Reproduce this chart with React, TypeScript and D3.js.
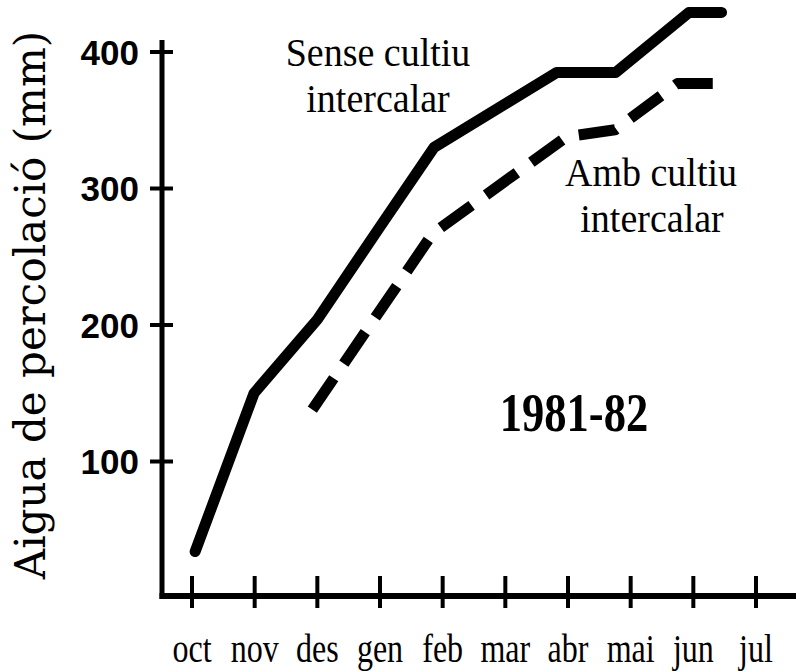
import React from 'react';
import * as d3 from 'd3';

// month ticks along the x axis
const months = ['oct', 'nov', 'des', 'gen', 'feb', 'mar', 'abr', 'mai', 'jun', 'jul'];
const yTicks = [100, 200, 300, 400];

// "Sense cultiu intercalar" (solid) - position in months from oct, mm
const senseMonth = [0.05, 0.99, 2, 3, 3.86, 5.82, 6.76, 7.93, 8.45];
const senseValue = [34, 150, 204, 272, 330, 385, 385, 429, 429];

// "Amb cultiu intercalar" (dashed)
const ambMonth = [1.92, 3.84, 5.98, 6.75, 7.75, 8.31];
const ambValue = [138, 267, 338, 343, 377, 377];

const W = 796;
const H = 671;
const serif = '"Liberation Serif", "Times New Roman", serif';

const App: React.FC = () => {
  const x = d3.scaleLinear().domain([0, 9]).range([192, 756]);
  const y = d3.scaleLinear().domain([0, 400]).range([598, 52]);

  const axisX = 162;
  const axisY = y(0) - 2;

  const line = d3
    .line<[number, number]>()
    .x((d) => x(d[0]))
    .y((d) => y(d[1]));

  const sensePts = senseMonth.map((m, i) => [m, senseValue[i]] as [number, number]);
  const ambPts = ambMonth.map((m, i) => [m, ambValue[i]] as [number, number]);

  // fit the dash pattern so the dashed line starts and ends on a dash
  let len = 0;
  for (let i = 1; i < ambPts.length; i++) {
    len += Math.hypot(x(ambPts[i][0]) - x(ambPts[i - 1][0]), y(ambPts[i][1]) - y(ambPts[i - 1][1]));
  }
  const dash = 38;
  const n = Math.round((len - dash) / 59);
  const gap = (len - dash) / n - dash;

  // labels are typeset in a narrow serif, squeeze horizontally
  const label = (cx: number, by: number, txt: string, size: number, sx: number, bold = false) => (
    <text
      transform={`translate(${cx},${by}) scale(${sx},1)`}
      textAnchor="middle"
      fontFamily={serif}
      fontSize={size}
      fontWeight={bold ? 'bold' : 'normal'}
      fill="#000"
    >
      {txt}
    </text>
  );

  return (
    <svg
      width={W}
      height={H}
      style={{ position: 'absolute', left: 0, top: 0, background: '#fff' }}
    >
      <rect width={W} height={H} fill="#fff" />

      {/* y axis */}
      <line x1={axisX} x2={axisX} y1={40} y2={axisY + 3} stroke="#000" strokeWidth={5} />
      {yTicks.map((t) => (
        <g key={t}>
          <line x1={axisX - 12} x2={axisX + 11} y1={y(t)} y2={y(t)} stroke="#000" strokeWidth={4} />
          <text
            x={axisX - 23}
            y={y(t)}
            dy="0.36em"
            textAnchor="end"
            fontFamily='"Liberation Sans", Arial, sans-serif'
            fontWeight="bold"
            fontSize={35}
            fill="#000"
          >
            {t}
          </text>
        </g>
      ))}

      {/* x axis */}
      <line x1={axisX - 2.5} x2={W} y1={axisY} y2={axisY} stroke="#000" strokeWidth={6} />
      {months.map((m, i) => (
        <g key={m}>
          <line x1={x(i)} x2={x(i)} y1={axisY - 20} y2={axisY + 12} stroke="#000" strokeWidth={4} />
          {label(x(i), 662, m, 40, 0.8)}
        </g>
      ))}

      {/* y axis title */}
      <text
        transform={`translate(45,305) rotate(-90)`}
        textAnchor="middle"
        fontFamily='"DejaVu Serif", serif'
        fontSize={42}
        fill="#000"
      >
        Aigua de percolació (mm)
      </text>

      {/* series */}
      <path d={line(sensePts) ?? ''} fill="none" stroke="#000" strokeWidth={11} strokeLinejoin="round" strokeLinecap="round" />
      <path
        d={line(ambPts) ?? ''}
        fill="none"
        stroke="#000"
        strokeWidth={11}
        strokeDasharray={`${dash} ${gap}`}
        strokeLinejoin="round"
      />

      {/* annotations */}
      {label(378, 66, 'Sense cultiu', 40, 0.95)}
      {label(378, 112, 'intercalar', 40, 0.95)}
      {label(651, 186, 'Amb cultiu', 40, 0.95)}
      {label(652, 232, 'intercalar', 40, 0.95)}
      {label(574, 431, '1981-82', 55, 0.81, true)}
    </svg>
  );
};

export default App;
